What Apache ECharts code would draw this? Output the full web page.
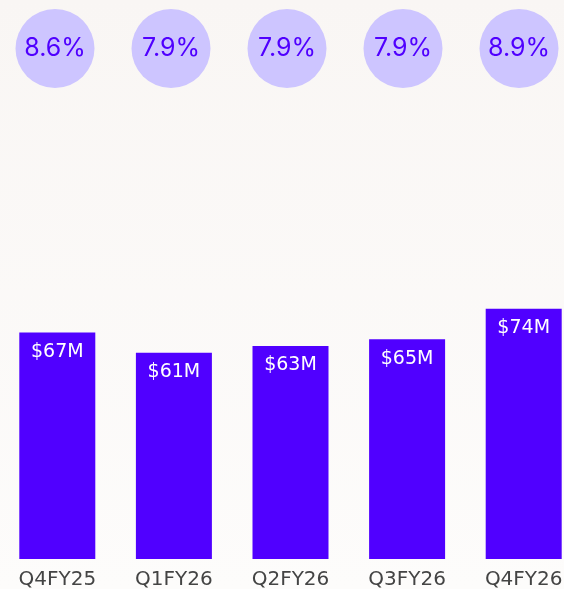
<!DOCTYPE html>
<html>
<head>
<meta charset="utf-8">
<script src="https://cdn.jsdelivr.net/npm/echarts@6/dist/echarts.min.js"></script>
<style>
  html, body { margin: 0; padding: 0; }
  #chart { width: 564px; height: 589px; }
</style>
</head>
<body>
<div id="chart"></div>
<script>
const quarters = ['Q4FY25', 'Q1FY26', 'Q2FY26', 'Q3FY26', 'Q4FY26']
const revenue = [67, 61, 63, 65, 74]
const margins = [8.6, 7.9, 7.9, 7.9, 8.9]

const chart = echarts.init(document.getElementById('chart'))

const option = {
  backgroundColor: new echarts.graphic.LinearGradient(0, 0, 0, 1, [
    { offset: 0, color: '#f9f6f4' },
    { offset: 1, color: '#fdfcfb' }
  ]),
  animation: false,
  grid: [
    { left: -1, right: -18, top: 18, bottom: 30, outerBoundsMode: 'none' },
    // circles row sits a touch left of the bars
    { left: -3, right: -13, top: 9, height: 79, outerBoundsMode: 'none' }
  ],
  xAxis: [
    {
      type: 'category',
      gridIndex: 0,
      data: quarters,
      axisLine: { show: false },
      axisTick: { show: false },
      axisLabel: {
        color: '#444444',
        fontFamily: 'DejaVu Sans',
        fontSize: 20,
        margin: 11
      }
    },
    {
      type: 'category',
      gridIndex: 1,
      data: quarters,
      show: false
    }
  ],
  yAxis: [
    { type: 'value', gridIndex: 0, min: 0, max: 160, show: false },
    { type: 'value', gridIndex: 1, min: 0, max: 1, show: false }
  ],
  series: [
    {
      type: 'bar',
      xAxisIndex: 0,
      yAxisIndex: 0,
      data: revenue,
      barWidth: 76,
      itemStyle: { color: '#5000ff' },
      label: {
        show: true,
        position: 'insideTop',
        distance: 10,
        color: '#ffffff',
        fontFamily: 'DejaVu Sans',
        fontSize: 19,
        formatter: p => '$' + p.value + 'M'
      }
    },
    {
      type: 'scatter',
      xAxisIndex: 1,
      yAxisIndex: 1,
      data: margins.map((m, i) => [i, 0.5, m]),
      symbolSize: 79,
      itemStyle: { color: '#cdc5ff', opacity: 1 },
      label: {
        show: true,
        position: 'inside',
        color: '#5000ff',
        fontFamily: 'Inter',
        fontSize: 25,
        formatter: p => p.value[2].toFixed(1) + '%'
      }
    }
  ]
}

chart.setOption(option)
</script>
</body>
</html>
